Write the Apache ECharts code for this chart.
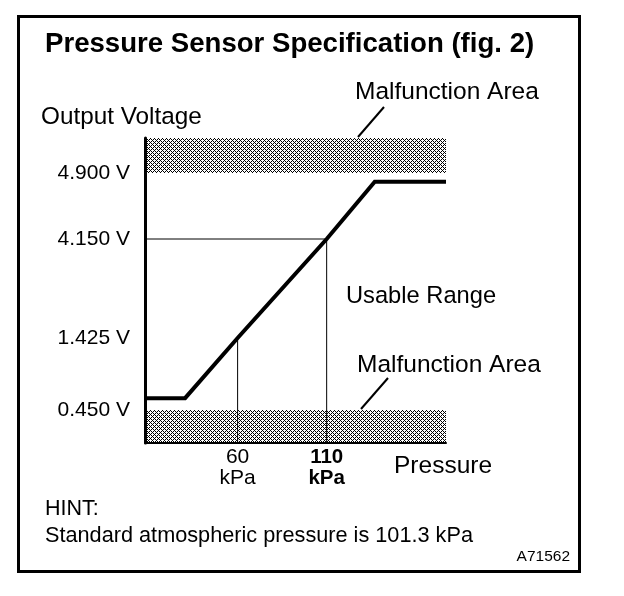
<!DOCTYPE html>
<html>
<head>
<meta charset="utf-8">
<script src="https://cdn.jsdelivr.net/npm/echarts@6/dist/echarts.min.js"></script>
<style>
html,body{margin:0;padding:0;background:#fff;}
#chart{width:624px;height:596px;}
</style>
</head>
<body>
<div id="chart"></div>
<script>
// ---- data ----
const pressureKpa = [8, 30.5, 60, 110, 137, 177];
const outputVolt = [0.61, 0.61, 1.425, 4.15, 4.8, 4.8];
const voltTicks = [0.45, 1.425, 4.15, 4.9];
const voltTickLabels = ['0.450 V', '1.425 V', '4.150 V', '4.900 V'];
const pressureTicks = [60, 110];
const pressureTickLabels = ['60\nkPa', '110\nkPa'];
const guidePressure = [60, 110];
const guideVolt = [1.425, 4.15];
const malfunctionLowMax = 0.45;
const malfunctionHighMin = 4.9;
const pressureRange = [8, 177];

// ---- schematic (non-linear) voltage axis layout ----
const voltStops = [0, 0.45, 1.425, 4.15, 4.9, 5.4];
const levelStops = [0, 33, 105, 204, 270, 305];
function level(v) {
  for (let i = 1; i < voltStops.length; i++) {
    if (v <= voltStops[i]) {
      const t = (v - voltStops[i - 1]) / (voltStops[i] - voltStops[i - 1]);
      return levelStops[i - 1] + t * (levelStops[i] - levelStops[i - 1]);
    }
  }
  return levelStops[levelStops.length - 1];
}
const levelMax = levelStops[levelStops.length - 1];

function makeHatch() {
  const c = document.createElement('canvas');
  c.width = 4; c.height = 4;
  const g = c.getContext('2d');
  g.fillStyle = '#fff'; g.fillRect(0, 0, 4, 4);
  g.fillStyle = '#000';
  for (let i = 0; i < 4; i++) for (let j = 0; j < 4; j++) {
    if ((i + j) % 4 === 0 || (i - j + 4) % 4 === 0) g.fillRect(i, j, 1, 1);
  }
  return c;
}
const hatch = { image: makeHatch(), repeat: 'repeat' };

const FONT = '"Liberation Sans", Arial, Helvetica, sans-serif';
const chart = echarts.init(document.getElementById('chart'), null, { renderer: 'canvas' });

const curveData = pressureKpa.map((p, i) => [p, level(outputVolt[i])]);
const guideSeries = guidePressure.map((p, i) => {
  const pts = [];
  if (i === guidePressure.length - 1) pts.push([pressureRange[0], level(guideVolt[i])]);
  pts.push([p, level(guideVolt[i])]);
  pts.push([p, 0]);
  return {
    type: 'line', data: pts, symbol: 'none', silent: true, z: 3,
    lineStyle: { color: '#000', width: 1 }, animation: false
  };
});

function textEl(text, x, y, size) {
  return {
    type: 'text', x: x, y: y, silent: true,
    style: {
      text: text, fill: '#000', font: 'normal ' + size + 'px ' + FONT,
      textAlign: 'left', textVerticalAlign: 'middle'
    }
  };
}

const option = {
  animation: false,
  backgroundColor: '#fff',
  grid: { left: 145, right: 178, top: 138, bottom: 153 },
  xAxis: {
    type: 'value', min: pressureRange[0], max: pressureRange[1], z: 5,
    splitLine: { show: false },
    axisTick: { show: false },
    axisLine: { show: true, onZero: false, lineStyle: { color: '#000', width: 2 } },
    axisLabel: {
      customValues: pressureTicks,
      formatter: function (v) {
        const i = pressureTicks.indexOf(v);
        if (i < 0) return '';
        const txt = pressureTickLabels[i];
        return i === pressureTicks.length - 1 ? '{b|' + txt.split('\n').join('}\n{b|') + '}' : txt;
      },
      rich: { b: { fontWeight: 'bold', fontFamily: FONT, fontSize: 20.5, lineHeight: 21, color: '#000' } },
      color: '#000', fontFamily: FONT, fontSize: 21, lineHeight: 21, margin: 4
    }
  },
  yAxis: {
    type: 'value', min: 0, max: levelMax, z: 5,
    splitLine: { show: false },
    axisTick: { show: false },
    axisLine: { show: true, onZero: false, lineStyle: { color: '#000', width: 3 } },
    axisLabel: {
      customValues: voltTicks.map(level),
      formatter: function (v) {
        for (let i = 0; i < voltTicks.length; i++) {
          if (Math.abs(level(voltTicks[i]) - v) < 1e-6) return voltTickLabels[i];
        }
        return '';
      },
      color: '#000', fontFamily: FONT, fontSize: 21, margin: 15
    }
  },
  series: [
    {
      type: 'line', data: [], z: 1, silent: true,
      markArea: {
        silent: true,
        itemStyle: { color: hatch, borderWidth: 0 },
        label: { show: false },
        data: [
          [{ xAxis: pressureRange[0], yAxis: 0 }, { xAxis: pressureRange[1], yAxis: level(malfunctionLowMax) }],
          [{ xAxis: pressureRange[0], yAxis: level(malfunctionHighMin) }, { xAxis: pressureRange[1], yAxis: levelMax }]
        ]
      }
    }
  ].concat(guideSeries).concat([
    {
      type: 'line', data: curveData, symbol: 'none', z: 4, silent: true,
      lineStyle: { color: '#000', width: 4, join: 'miter' }
    }
  ]),
  graphic: [
    { type: 'rect', silent: true, shape: { x: 18.5, y: 16.5, width: 561, height: 555 },
      style: { fill: 'none', stroke: '#000', lineWidth: 3 } },
    { type: 'text', x: 45, y: 44, silent: true,
      style: { text: 'Pressure Sensor Specification (fig. 2)', fill: '#000',
        font: 'bold 27.6px ' + FONT, textAlign: 'left', textVerticalAlign: 'middle' } },
    textEl('Output Voltage', 41, 117, 24.3),
    textEl('Malfunction Area', 355, 92, 24.5),
    { type: 'line', silent: true, shape: { x1: 384, y1: 107, x2: 358, y2: 137 },
      style: { stroke: '#000', lineWidth: 2 } },
    textEl('Usable Range', 346, 296, 23.7),
    textEl('Malfunction Area', 357, 365, 24.5),
    { type: 'line', silent: true, shape: { x1: 388, y1: 378, x2: 361, y2: 409 },
      style: { stroke: '#000', lineWidth: 2 } },
    textEl('Pressure', 394, 466, 24.5),
    textEl('HINT:', 45, 509, 21.5),
    textEl('Standard atmospheric pressure is 101.3 kPa', 45, 536, 21.7),
    { type: 'text', x: 570, y: 557, silent: true,
      style: { text: 'A71562', fill: '#000', font: 'normal 15.5px ' + FONT,
        textAlign: 'right', textVerticalAlign: 'middle' } }
  ]
};
chart.setOption(option);
</script>
</body>
</html>
